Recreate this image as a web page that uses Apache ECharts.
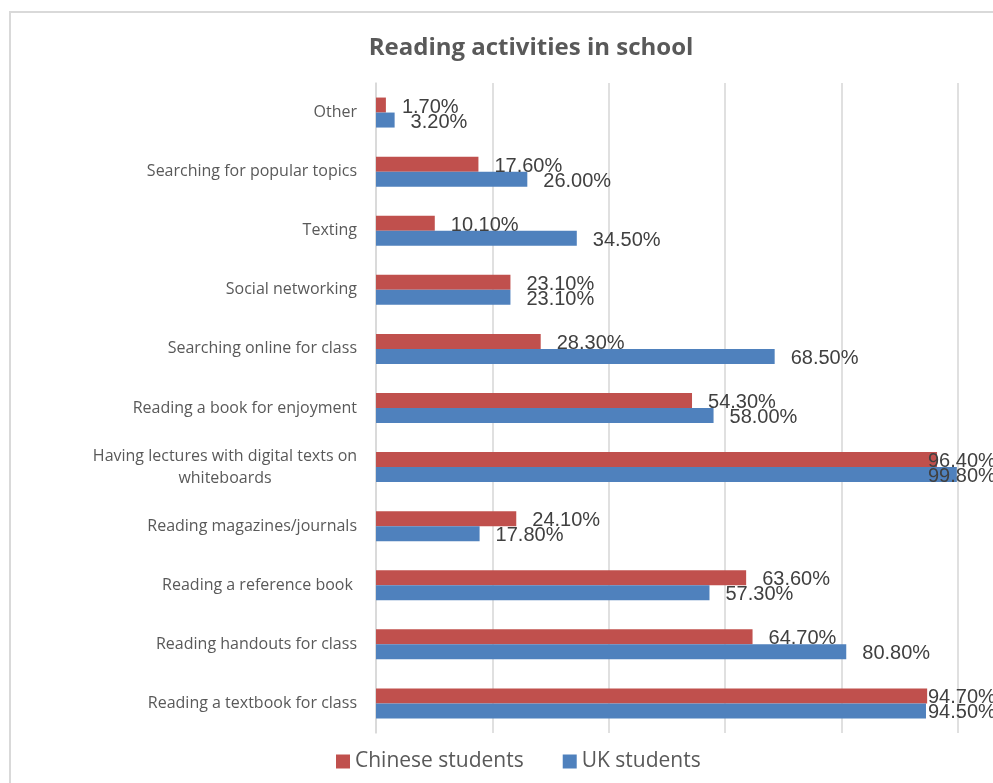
<!DOCTYPE html>
<html>
<head>
<meta charset="utf-8">
<script src="https://cdn.jsdelivr.net/npm/echarts@6/dist/echarts.min.js"></script>
<style>
  html, body { margin: 0; padding: 0; background: #ffffff; }
  #chart { width: 993px; height: 783px; }
</style>
</head>
<body>
<div id="chart"></div>
<script>
// Activities, listed top to bottom
const categories = [
  'Other',
  'Searching for popular topics',
  'Texting',
  'Social networking',
  'Searching online for class',
  'Reading a book for enjoyment',
  'Having lectures with digital texts on\nwhiteboards',
  'Reading magazines/journals',
  'Reading a reference book ',
  'Reading handouts for class',
  'Reading a textbook for class'
];

// Percent of students reporting each activity
const chineseStudents = [1.7, 17.6, 10.1, 23.1, 28.3, 54.3, 96.4, 24.1, 63.6, 64.7, 94.7];
const ukStudents      = [3.2, 26.0, 34.5, 23.1, 68.5, 58.0, 99.8, 17.8, 57.3, 80.8, 94.5];

const seriesNames = ['Chinese students', 'UK students'];

const TEXT = '#595959';
const LABEL = '#404040';
const GRID = '#d9d9d9';

// Labels near the right edge are pulled back so they stay inside the chart area
function labelled(values) {
  return values.map(function (v) {
    const item = { value: v };
    const natural = v * 5.82 + 16 + 68;
    const limit = 620;
    if (natural > limit) {
      item.label = { offset: [limit - natural, 2] };
    }
    return item;
  });
}

const chart = echarts.init(document.getElementById('chart'), null, { renderer: 'canvas' });

const labelStyle = {
  show: true,
  position: 'right',
  distance: 16,
  offset: [0, 2],
  fontFamily: 'Liberation Sans, Arial, sans-serif',
  fontSize: 20,
  color: LABEL,
  formatter: function (p) { return p.value.toFixed(2) + '%'; }
};

chart.setOption({
  animation: false,
  backgroundColor: '#ffffff',
  title: {
    text: 'Reading activities in school',
    left: 526,
    top: 31,
    textAlign: 'center',
    textStyle: {
      fontFamily: 'Open Sans, sans-serif',
      fontWeight: 'bold',
      fontSize: 24,
      color: TEXT
    }
  },
  graphic: [{
    type: 'rect',
    shape: { x: 10, y: 12, width: 1100, height: 900 },
    style: { fill: 'none', stroke: GRID, lineWidth: 2 },
    silent: true,
    z: -10
  }],
  legend: {
    data: seriesNames,
    bottom: 6,
    left: 331,
    itemWidth: 14,
    itemHeight: 14,
    itemGap: 39,
    icon: 'rect',
    textStyle: {
      fontFamily: 'Open Sans, sans-serif',
      fontSize: 21,
      color: TEXT
    }
  },
  grid: {
    left: 376,
    right: 35,
    top: 83,
    height: 650,
    containLabel: false
  },
  xAxis: {
    type: 'value',
    min: 0,
    max: 100,
    interval: 20,
    axisLabel: { show: false },
    axisLine: { show: false },
    axisTick: { show: false },
    splitLine: { show: true, lineStyle: { color: GRID, width: 1.6 } }
  },
  yAxis: {
    type: 'category',
    inverse: true,
    data: categories,
    axisLine: { show: true, lineStyle: { color: GRID, width: 1.6 } },
    axisTick: { show: false },
    axisLabel: {
      margin: 19,
      fontFamily: 'Open Sans, sans-serif',
      fontSize: 16,
      color: TEXT,
      lineHeight: 22,
      formatter: function (v) {
        if (v.indexOf('\n') >= 0) {
          return v.split('\n').map(function (s) { return '{c|' + s + '}'; }).join('\n');
        }
        return v;
      },
      rich: {
        c: {
          width: 264,
          align: 'center',
          fontFamily: 'Open Sans, sans-serif',
          fontSize: 16,
          color: TEXT,
          lineHeight: 22
        }
      }
    }
  },
  series: [
    {
      name: seriesNames[0],
      type: 'bar',
      data: labelled(chineseStudents),
      barWidth: 15,
      barGap: '0%',
      itemStyle: { color: '#C0504D' },
      label: labelStyle,
      z: 2
    },
    {
      name: seriesNames[1],
      type: 'bar',
      data: labelled(ukStudents),
      barWidth: 15,
      barGap: '0%',
      itemStyle: { color: '#4F81BD' },
      label: labelStyle,
      z: 2
    }
  ]
});
</script>
</body>
</html>
